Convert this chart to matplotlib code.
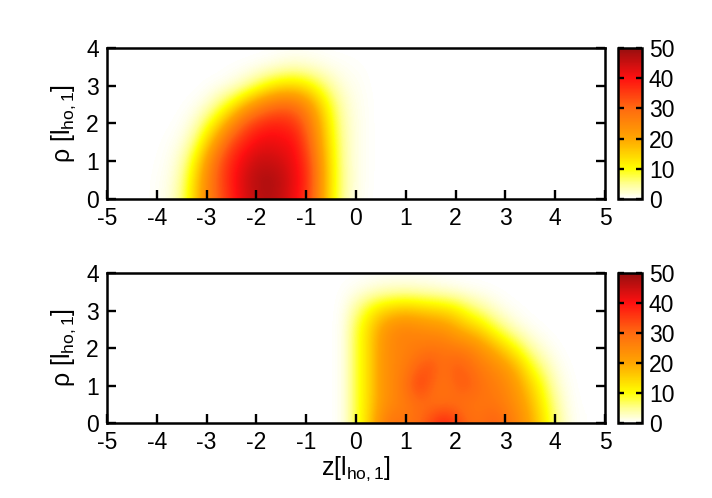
import numpy as np
import matplotlib
matplotlib.use("Agg")
import matplotlib.pyplot as plt
from matplotlib.colors import LinearSegmentedColormap

plt.rcParams['font.family'] = ['Liberation Sans', 'DejaVu Sans']
plt.rcParams['font.size'] = 16.5
plt.rcParams['axes.unicode_minus'] = False
plt.rcParams['mathtext.fontset'] = 'custom'
plt.rcParams['mathtext.rm'] = 'Liberation Sans'
plt.rcParams['mathtext.it'] = 'Liberation Sans'
plt.rcParams['mathtext.default'] = 'rm'

rho = [0, 0.5, 1, 1.5, 2, 2.5, 3, 3.5, 4]
x_ticks = [-5, -4, -3, -2, -1, 0, 1, 2, 3, 4, 5]
y_ticks = [0, 1, 2, 3, 4]
cb_ticks = [0, 10, 20, 30, 40, 50]

# z = -4.5 ... 0.5, step 0.25
z_top = [-4.5 + 0.25 * i for i in range(21)]
dens_top = [
    [0, 0, 0.5, 1.5, 6, 15, 25, 32, 38, 43, 46, 47, 45, 41, 36, 24, 12, 4, 1, 0.2, 0],
    [0, 0, 0.4, 1.2, 5, 14, 25, 33, 39, 44, 47, 48, 46, 42, 37, 25, 12, 4.5, 1.2, 0.3, 0],
    [0, 0, 0.2, 0.8, 3.5, 11, 22, 32, 38, 42, 45, 45, 44, 41, 36, 24, 12, 4, 1.2, 0.3, 0],
    [0, 0, 0.1, 0.4, 1.5, 6, 15, 25, 34, 38, 41, 42, 41, 40, 33, 22, 11, 4, 1.2, 0.3, 0],
    [0, 0, 0, 0.1, 0.5, 2.5, 8, 15, 24, 32, 36, 38, 38, 36, 30, 20, 10, 3.5, 1.2, 0.3, 0],
    [0, 0, 0, 0, 0.1, 0.5, 2, 6, 11, 18, 24, 28, 30, 29, 24, 16, 8, 3, 1, 0.3, 0],
    [0, 0, 0, 0, 0, 0, 0.2, 0.5, 1.5, 3.5, 7, 11, 13.5, 14, 12, 8, 4, 1.5, 0.7, 0.2, 0],
    [0, 0, 0, 0, 0, 0, 0, 0, 0.1, 0.2, 0.5, 1, 1.8, 2.4, 2, 1.4, 0.8, 0.5, 0.3, 0.1, 0],
    [0, 0, 0, 0, 0, 0, 0, 0, 0, 0, 0, 0, 0.1, 0.1, 0.1, 0.1, 0, 0, 0, 0, 0],
]

# z = -0.5 ... 4.5, step 0.25
z_bot = [-0.5 + 0.25 * i for i in range(21)]
dens_bot = [
    [0, 1, 8, 15, 25, 29, 28, 30, 34, 39, 35, 30, 29, 32, 29, 25, 20, 13, 6, 1.5, 0.2],
    [0, 1, 8, 14, 22, 25, 27, 29, 29, 29, 29, 28, 28, 28, 26, 23, 18, 11, 5, 1, 0.1],
    [0, 1, 8, 14, 22, 25, 29, 35, 31, 28, 31, 32, 29, 27, 25, 21, 15, 9, 3, 0.6, 0],
    [0, 1, 8, 14, 22, 25, 27, 31, 33, 29, 32, 30, 27, 25, 22, 17, 10, 5, 1.5, 0.2, 0],
    [0, 1, 8, 14, 22, 25, 26, 27, 28, 28, 27, 26, 23, 19, 14, 9, 4, 1.5, 0.3, 0, 0],
    [0, 1, 8, 14, 21, 25, 26, 25, 24, 23, 20, 17, 14, 9, 5, 2, 0.6, 0.1, 0, 0, 0],
    [0, 0.7, 5, 10, 14, 16, 17, 16, 15, 14, 12, 8, 5, 2.5, 0.8, 0.2, 0, 0, 0, 0, 0],
    [0, 0.3, 0.8, 1.5, 2.2, 2.6, 2.7, 2.4, 2, 1.4, 0.9, 0.5, 0.3, 0.1, 0, 0, 0, 0, 0, 0, 0],
    [0, 0, 0, 0.1, 0.1, 0.1, 0.1, 0.1, 0.1, 0, 0, 0, 0, 0, 0, 0, 0, 0, 0, 0, 0],
]

cmap = LinearSegmentedColormap.from_list("dens", [
    (0.0, "#ffffff"), (0.1, "#ffff90"), (0.2, "#ffff00"), (0.4, "#ffa500"),
    (0.6, "#ff6a10"), (0.8, "#ff1010"), (1.0, "#960f0f")])

W, H = 712.0, 498.0
fig = plt.figure(figsize=(7.12, 4.98), dpi=100)


def panel(y0, y1, z, dens):
    ax = fig.add_axes([107 / W, 1 - y1 / H, (605 - 107) / W, (y1 - y0) / H])
    ext = [z[0] - 0.125, z[-1] + 0.125, rho[0] - 0.25, rho[-1] + 0.25]
    im = ax.imshow(dens, origin='lower', extent=ext, cmap=cmap, vmin=0, vmax=50,
                   aspect='auto', interpolation='bicubic')
    ax.set_xlim(-5, 5)
    ax.set_ylim(0, 4)
    ax.set_xticks(x_ticks)
    ax.set_yticks(y_ticks)
    ax.tick_params(direction='in', length=6.5, width=1.7, top=False, right=True,
                   labelsize=16.5, pad=6)
    for s in ax.spines.values():
        s.set_linewidth(1.8)
    ax.set_ylabel("\u03c1 [l$_{ho,1}$]", fontsize=18, labelpad=6)

    cax = fig.add_axes([618 / W, 1 - y1 / H, 24 / W, (y1 - y0) / H])
    cb = fig.colorbar(im, cax=cax)
    cb.set_ticks(cb_ticks)
    cax.tick_params(direction='in', length=4, width=1.7, left=True, right=True,
                    labelsize=16.5, pad=5)
    cb.outline.set_linewidth(1.8)
    return ax


ax1 = panel(48, 199, z_top, dens_top)
ax2 = panel(273, 423, z_bot, dens_bot)
ax2.set_xlabel("z[l$_{ho,1}$]", fontsize=18, labelpad=0)

fig.savefig("out.png", dpi=100)
